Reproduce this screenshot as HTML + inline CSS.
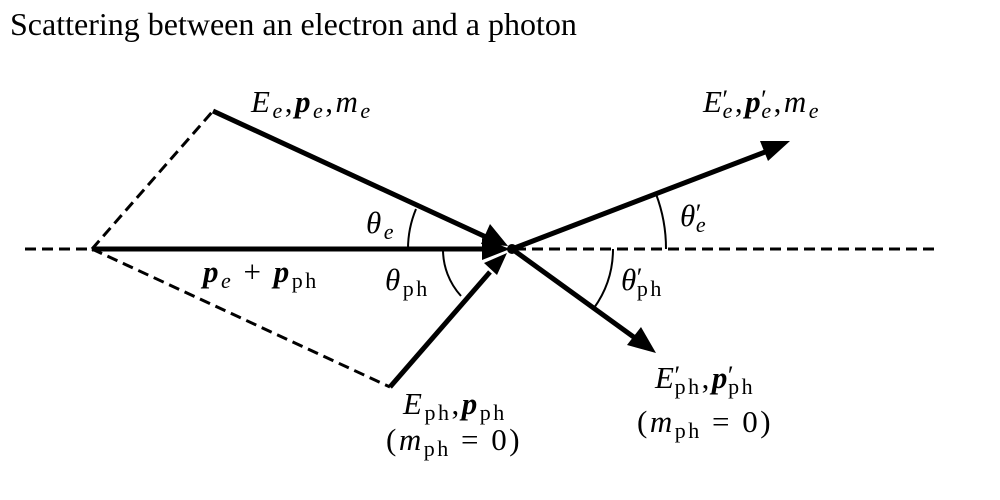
<!DOCTYPE html>
<html><head><meta charset="utf-8"><style>
body{margin:0;background:#fff;width:1000px;height:500px;overflow:hidden}
svg{position:absolute;left:0;top:0}
text{font-family:"Liberation Serif",serif;fill:#000}
.m{font-size:31px;letter-spacing:2.5px}
.i{font-style:italic}
.b{font-weight:bold;font-style:italic}
.s{font-size:22px}
.p{font-size:26px}
</style></head><body>
<svg width="1000" height="500" viewBox="0 0 1000 500">
<text x="10" y="35" style="font-size:32px">Scattering between an electron and a photon</text>
<g stroke="#000" stroke-width="3" stroke-dasharray="11,6" fill="none">
<line x1="25" y1="249" x2="92" y2="249"/>
<line x1="515" y1="249" x2="940" y2="249"/>
<line x1="92" y1="249" x2="213" y2="111"/>
<line x1="92" y1="249" x2="390" y2="387"/>
</g>
<g stroke="#000" stroke-width="5" fill="none">
<line x1="92" y1="249" x2="485" y2="249"/>
<line x1="213" y1="111" x2="486" y2="237"/>
<line x1="390" y1="387" x2="490" y2="272"/>
<line x1="512" y1="249" x2="765" y2="152"/>
<line x1="512" y1="249" x2="635" y2="338"/>
</g>
<g fill="#000">
<path d="M510,249 L482,238 L482,260 Z"/>
<path d="M508,246 L481,244 L490,224 Z"/>
<path d="M507,253 L484,263 L497,275 Z"/>
<path d="M790,141 L760,141 L768,161 Z"/>
<path d="M656,353 L641,327 L627,345 Z"/>
<circle cx="512" cy="249" r="5"/>
</g>
<g stroke="#000" stroke-width="2" fill="none">
<path d="M408,249 A104,104 0 0 1 416,209"/>
<path d="M443,249 A69,69 0 0 0 461,296"/>
<path d="M666,249 A154,154 0 0 0 656,194"/>
<path d="M613,249 A101,101 0 0 1 594,308"/>
</g>
<text class="m" x="251" y="112"><tspan class="i">E</tspan><tspan class="i s" dy="6">e</tspan><tspan dy="-6">,</tspan><tspan class="b">p</tspan><tspan class="i s" dy="6">e</tspan><tspan dy="-6">,</tspan><tspan class="i">m</tspan><tspan class="i s" dy="6">e</tspan></text>
<text class="m" x="703" y="112"><tspan class="i">E</tspan><tspan class="p" dx="-2" dy="-4">′</tspan><tspan class="i s" dx="-8" dy="10">e</tspan><tspan dy="-6">,</tspan><tspan class="b">p</tspan><tspan class="p" dx="-2" dy="-4">′</tspan><tspan class="i s" dx="-8" dy="10">e</tspan><tspan dy="-6">,</tspan><tspan class="i">m</tspan><tspan class="i s" dy="6">e</tspan></text>
<text class="m" x="366" y="233"><tspan class="i">θ</tspan><tspan class="i s" dy="6">e</tspan></text>
<text class="m" x="680" y="226"><tspan class="i">θ</tspan><tspan class="p" dx="-2" dy="-4">′</tspan><tspan class="i s" dx="-8" dy="10">e</tspan></text>
<text class="m" x="203" y="282"><tspan class="b">p</tspan><tspan class="i s" dy="6">e</tspan><tspan dy="-6"> + </tspan><tspan class="b">p</tspan><tspan class="s" dy="6">ph</tspan></text>
<text class="m" x="385" y="290"><tspan class="i">θ</tspan><tspan class="s" dy="6">ph</tspan></text>
<text class="m" x="621" y="290"><tspan class="i">θ</tspan><tspan class="p" dx="-2" dy="-4">′</tspan><tspan class="s" dx="-8" dy="10">ph</tspan></text>
<text class="m" x="403" y="414"><tspan class="i">E</tspan><tspan class="s" dy="6">ph</tspan><tspan dy="-6">,</tspan><tspan class="b">p</tspan><tspan class="s" dy="6">ph</tspan></text>
<text class="m" x="386" y="450">(<tspan class="i">m</tspan><tspan class="s" dy="6">ph</tspan><tspan dy="-6"> = 0)</tspan></text>
<text class="m" x="655" y="388"><tspan class="i">E</tspan><tspan class="p" dx="-2" dy="-4">′</tspan><tspan class="s" dx="-8" dy="10">ph</tspan><tspan dy="-6">,</tspan><tspan class="b">p</tspan><tspan class="p" dx="-2" dy="-4">′</tspan><tspan class="s" dx="-8" dy="10">ph</tspan></text>
<text class="m" x="637" y="432">(<tspan class="i">m</tspan><tspan class="s" dy="6">ph</tspan><tspan dy="-6"> = 0)</tspan></text>
</svg>
</body></html>
